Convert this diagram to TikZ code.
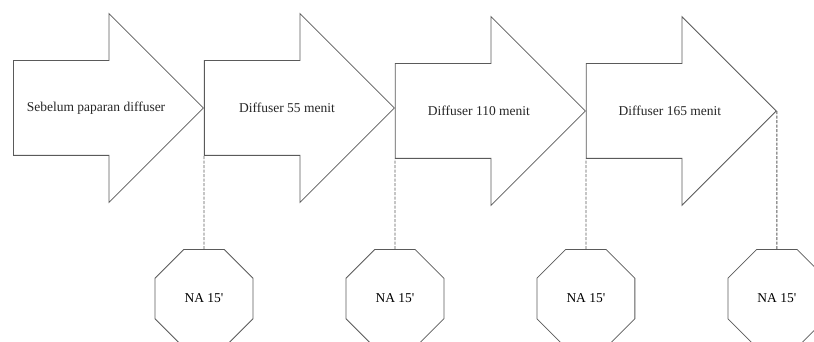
\documentclass[tikz,border=0pt]{standalone}
\usepackage{fontspec}
\setmainfont{Liberation Serif}
\usetikzlibrary{shapes.arrows, shapes.geometric, positioning}
\definecolor{lineGray}{HTML}{5A5A5A}
\tikzset{
  stageArrow/.style={single arrow, draw=lineGray, line width=0.8pt, fill=white,
                     minimum width=188pt, minimum height=190pt,
                     inner xsep=0pt, inner ysep=47pt,
                     single arrow head extend=47pt, single arrow tip angle=90},
  naOct/.style={regular polygon, regular polygon sides=8, draw=lineGray,
                line width=0.8pt, minimum size=106pt, inner sep=0pt},
  linkD/.style={draw=lineGray, line width=0.8pt, dash pattern=on 3pt off 1.5pt},
  stageText/.style={anchor=center, inner sep=0pt, text=black!85},
}
\newcommand{\naLabel}{NA 15\textquotesingle}

\begin{document}
\begin{tikzpicture}[x=1pt, y=-1pt, font=\fontsize{13.5}{16}\selectfont]
    \useasboundingbox (0,0) rectangle (814,342);
    \clip (0,0) rectangle (814,342);
    % stages
    \node[stageArrow, anchor=tail] (a1) at (13,108) {};
    \node[stageArrow, anchor=tail] (a2) at (a1.tip) {};
    \node[stageArrow, anchor=tail] (a3) at ([yshift=-3pt]a2.tip) {};
    \node[stageArrow, anchor=tail] (a4) at (a3.tip) {};
    \node[stageText] (t1) at ([xshift=83pt]a1.tail) {Sebelum paparan diffuser};
    \node[stageText] (t2) at ([xshift=83pt]a2.tail) {Diffuser 55 menit};
    \node[stageText] (t3) at ([xshift=84pt]a3.tail) {Diffuser 110 menit};
    \node[stageText] (t4) at ([xshift=84pt]a4.tail) {Diffuser 165 menit};
    % samples
    \node[naOct] (n1) at ([yshift=-190.5pt]a2.tail) {\naLabel};
    \node[naOct] (n2) at (a3.tail |- n1) {\naLabel};
    \node[naOct] (n3) at (a4.tail |- n1) {\naLabel};
    \node[naOct] (n4) at (a4.tip |- n1) {\naLabel};
    \draw[linkD] (n1.north) -- (a2.before tail);
    \draw[linkD] (n2.north) -- (a3.before tail);
    \draw[linkD] (n3.north) -- (a4.before tail);
    \draw[linkD] (n4.north) -- (a4.tip);
\end{tikzpicture}
\end{document}
